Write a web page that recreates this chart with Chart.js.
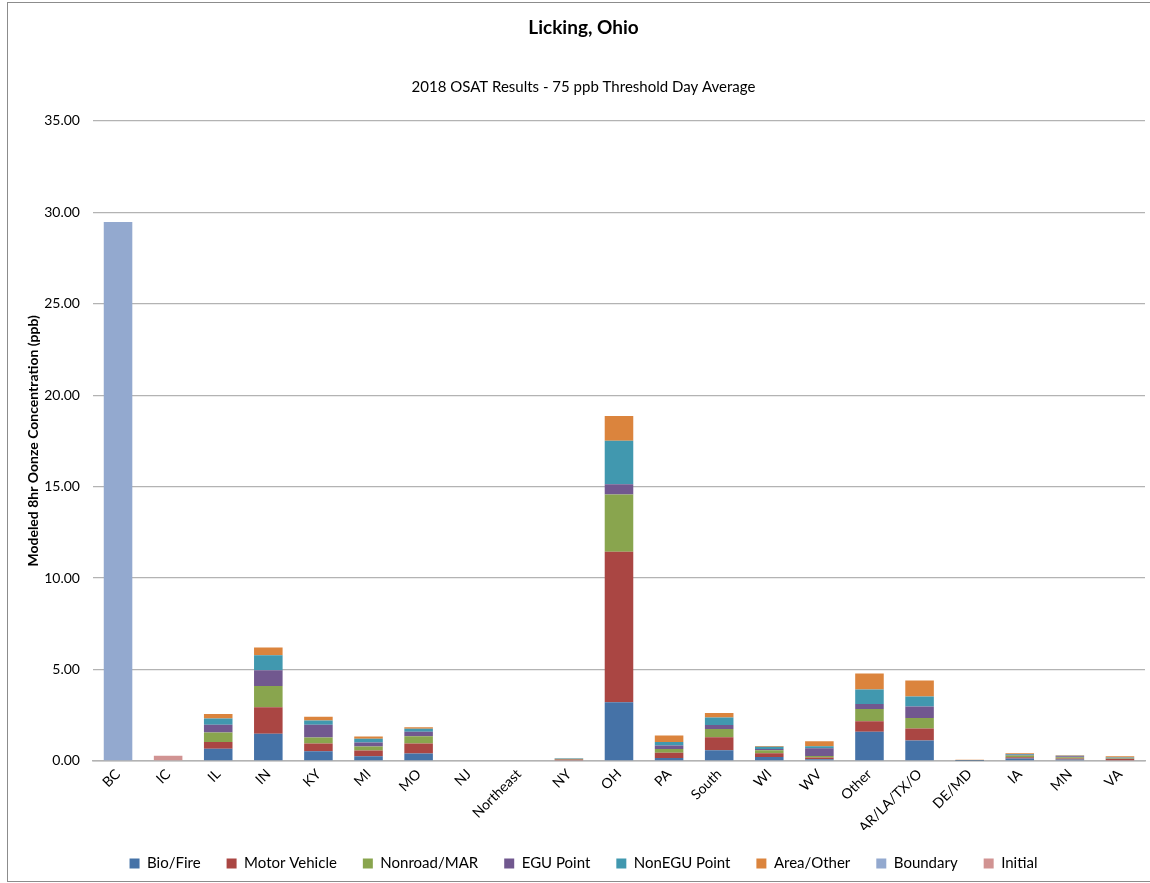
<!DOCTYPE html>
<html lang="en">
<head>
  <meta charset="UTF-8">
  <title>Licking, Ohio - 2018 OSAT Results</title>
  <script src="https://cdn.jsdelivr.net/npm/chart.js"></script>
  <style>
    html, body {
      margin: 0;
      padding: 0;
      background: #fff;
      overflow: hidden;
    }
    #frame {
      position: absolute;
      left: 7px;
      top: 2px;
      width: 1160px;
      height: 878px;
      border: 1px solid #8c8c8c;
      overflow: hidden;
    }
    #wrap {
      position: absolute;
      left: -8px;
      top: -3px;
      width: 1150px;
      height: 883px;
    }
  </style>
</head>
<body>

<div id="frame">
  <div id="wrap"><canvas id="osatChart"></canvas></div>
</div>

<script>
// categories (source regions)
const categories = ['BC', 'IC', 'IL', 'IN', 'KY', 'MI', 'MO', 'NJ', 'Northeast', 'NY', 'OH',
  'PA', 'South', 'WI', 'WV', 'Other', 'AR/LA/TX/O', 'DE/MD', 'IA', 'MN', 'VA'];

// contributions (ppb)
const bioFire      = [0, 0, 0.66, 1.48, 0.53, 0.26, 0.40, 0, 0, 0.03, 3.21, 0.16, 0.58, 0.22, 0.09, 1.60, 1.11, 0.01, 0.13, 0.08, 0.04];
const motorVehicle = [0, 0, 0.38, 1.46, 0.42, 0.31, 0.55, 0, 0, 0.04, 8.23, 0.29, 0.71, 0.20, 0.09, 0.57, 0.66, 0.01, 0.07, 0.05, 0.06];
const nonroadMar   = [0, 0, 0.51, 1.15, 0.33, 0.22, 0.40, 0, 0, 0.03, 3.12, 0.20, 0.45, 0.16, 0.09, 0.67, 0.58, 0.01, 0.09, 0.07, 0.03];
const eguPoint     = [0, 0, 0.42, 0.87, 0.69, 0.22, 0.25, 0, 0, 0.01, 0.57, 0.19, 0.22, 0.07, 0.42, 0.27, 0.62, 0.01, 0.05, 0.05, 0.03];
const nonEguPoint  = [0, 0, 0.35, 0.82, 0.24, 0.20, 0.16, 0, 0, 0.02, 2.38, 0.20, 0.42, 0.13, 0.11, 0.80, 0.55, 0.01, 0.04, 0.03, 0.02];
const areaOther    = [0, 0, 0.24, 0.42, 0.20, 0.13, 0.08, 0, 0, 0.02, 1.35, 0.35, 0.24, 0.04, 0.27, 0.87, 0.87, 0.01, 0.04, 0.03, 0.08];
const boundary     = [29.47, 0, 0, 0, 0, 0, 0, 0, 0, 0, 0, 0, 0, 0, 0, 0, 0, 0, 0, 0, 0];
const initial      = [0, 0.28, 0, 0, 0, 0, 0, 0, 0, 0, 0, 0, 0, 0, 0, 0, 0, 0, 0, 0, 0];

const yTicks = [0, 5, 10, 15, 20, 25, 30, 35];

const FONT = "Lato, 'Open Sans', sans-serif";

function ds(label, data, color) {
  return {
    label: label,
    data: data,
    backgroundColor: color,
    borderWidth: 0,
    stack: 's'
  };
}

const ctx = document.getElementById('osatChart').getContext('2d');
new Chart(ctx, {
  type: 'bar',
  data: {
    labels: categories,
    datasets: [
      ds('Bio/Fire', bioFire, '#4572a7'),
      ds('Motor Vehicle', motorVehicle, '#aa4643'),
      ds('Nonroad/MAR', nonroadMar, '#89a54e'),
      ds('EGU Point', eguPoint, '#71588f'),
      ds('NonEGU Point', nonEguPoint, '#4198af'),
      ds('Area/Other', areaOther, '#db843d'),
      ds('Boundary', boundary, '#93a9cf'),
      ds('Initial', initial, '#d19392')
    ]
  },
  options: {
    responsive: true,
    maintainAspectRatio: false,
    animation: false,
    datasets: {
      bar: { categoryPercentage: 1.0, barPercentage: 0.57 }
    },
    layout: {
      padding: { left: 22, right: 5, top: 0, bottom: 2 }
    },
    plugins: {
      title: {
        display: true,
        text: 'Licking, Ohio',
        color: '#000',
        font: { family: FONT, size: 19, weight: 'bold' },
        padding: { top: 16, bottom: 0 }
      },
      subtitle: {
        display: true,
        text: '2018 OSAT Results - 75 ppb Threshold Day Average',
        color: '#000',
        font: { family: FONT, size: 15 },
        padding: { top: 39, bottom: 25 }
      },
      legend: {
        position: 'bottom',
        labels: {
          color: '#000',
          boxWidth: 10,
          boxHeight: 10,
          padding: 26,
          font: { family: FONT, size: 15 }
        }
      },
      tooltip: { enabled: false }
    },
    scales: {
      x: {
        stacked: true,
        grid: { display: false, drawTicks: false },
        border: { display: true, color: '#b3b3b3', width: 1.5 },
        ticks: {
          color: '#000',
          minRotation: 45,
          maxRotation: 45,
          padding: 5,
          font: { family: FONT, size: 14 }
        },
        // labels may run into the empty band above the legend
        afterFit: scale => { scale.height -= 11; }
      },
      y: {
        stacked: true,
        min: 0,
        max: 35,
        afterBuildTicks: axis => {
          axis.ticks = yTicks.map(v => ({ value: v }));
        },
        grid: { color: '#b3b3b3', lineWidth: 1.2, drawTicks: false },
        border: { display: false },
        ticks: {
          color: '#000',
          padding: 13,
          font: { family: FONT, size: 14 },
          callback: v => Number(v).toFixed(2)
        },
        title: {
          display: true,
          text: 'Modeled 8hr Oonze Concentration (ppb)',
          color: '#000',
          font: { family: FONT, size: 14, weight: 'bold' },
          padding: { top: 2.6, bottom: -10.2 }
        }
      }
    }
  }
});
</script>

</body>
</html>
